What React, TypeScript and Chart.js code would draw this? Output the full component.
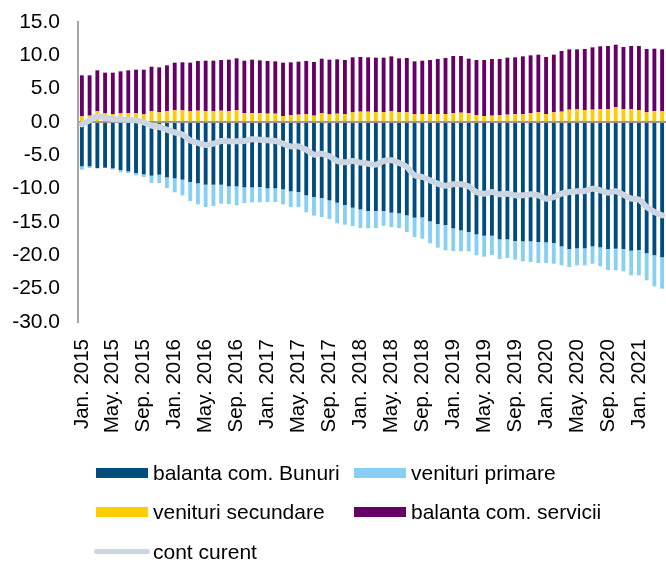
import React, { useEffect, useRef } from "react";
import { Chart, registerables } from "chart.js";

Chart.register(...registerables);

const MONTHS = ["Jan.", "Feb.", "Mar.", "Apr.", "May.", "Jun.", "Jul.", "Aug.", "Sep.", "Oct.", "Nov.", "Dec."];
const YEARS = [2015, 2016, 2017, 2018, 2019, 2020, 2021];
const N_MONTHS = 76; // Jan. 2015 – Apr. 2021

const LABELS: string[] = [];
for (const y of YEARS) for (const m of MONTHS) if (LABELS.length < N_MONTHS) LABELS.push(`${m} ${y}`);

const GOODS = [
  -6.65, -6.65, -6.9, -6.85, -6.95, -7.2, -7.4, -7.65, -7.85, -8.05, -7.9, -8.3, -8.45, -8.65, -9.0, -9.2, -9.4, -9.4, -9.4,
  -9.65, -9.65, -9.8, -9.8, -9.75, -9.95, -9.95, -10.1, -10.4, -10.5, -11.0, -11.25, -11.4, -11.75, -12.1, -12.45, -12.85, -13.1, -13.35,
  -13.35, -13.35, -13.6, -13.7, -14.0, -14.35, -14.3, -14.9, -15.3, -15.45, -15.95, -16.25, -16.5, -16.85, -17.05, -17.05, -17.6, -17.6, -17.85,
  -17.9, -17.9, -18.0, -18.05, -18.15, -18.65, -19.05, -18.95, -18.95, -18.65, -18.8, -19.05, -19.0, -19.05, -19.3, -19.2, -19.7, -20.0, -20.3,
];
const PRIMARY = [
  -0.5, -0.25, -0.1, -0.05, -0.2, -0.35, -0.25, -0.35, -0.4, -1.1, -1.25, -1.6, -2.1, -2.35, -2.85, -3.15, -3.35, -3.2, -2.85,
  -2.65, -2.85, -2.35, -2.25, -2.3, -2.05, -2.05, -2.25, -2.35, -2.25, -2.55, -2.8, -2.85, -2.8, -3.1, -2.95, -2.75, -2.8, -2.6,
  -2.55, -2.2, -2.15, -2.2, -2.5, -2.9, -3.2, -3.3, -3.55, -3.8, -3.4, -3.15, -2.9, -3.15, -3.15, -2.9, -2.95, -2.8, -2.8,
  -3.0, -3.1, -3.15, -3.1, -3.1, -2.85, -2.7, -2.55, -2.55, -2.6, -2.85, -3.15, -3.25, -3.35, -3.7, -3.8, -4.05, -4.65, -4.7,
];
const SECONDARY = [
  0.85, 0.95, 1.65, 1.3, 1.2, 1.3, 1.3, 1.3, 1.15, 1.6, 1.45, 1.65, 1.75, 1.75, 1.6, 1.7, 1.6, 1.6, 1.7,
  1.6, 1.75, 1.3, 1.35, 1.35, 1.25, 1.25, 0.9, 1.0, 1.1, 1.15, 0.95, 1.35, 1.15, 1.25, 1.15, 1.45, 1.55, 1.55,
  1.45, 1.5, 1.6, 1.45, 1.45, 1.15, 1.2, 1.2, 1.2, 1.2, 1.35, 1.4, 1.3, 1.0, 0.9, 0.95, 1.0, 1.1, 1.15,
  1.15, 1.3, 1.45, 1.2, 1.45, 1.55, 1.85, 1.9, 1.8, 1.85, 1.9, 1.9, 2.2, 1.9, 1.9, 1.8, 1.45, 1.65, 1.6,
];
const SERVICES = [
  6.15, 6.05, 6.1, 6.1, 6.2, 6.3, 6.45, 6.55, 6.7, 6.7, 6.75, 6.85, 7.15, 7.2, 7.3, 7.45, 7.6, 7.6, 7.6,
  7.75, 7.8, 7.9, 8.0, 7.9, 7.9, 7.85, 8.0, 7.95, 7.95, 8.0, 8.05, 8.15, 8.2, 8.15, 8.15, 8.25, 8.2, 8.15,
  8.2, 8.15, 8.25, 8.1, 8.15, 7.95, 8.0, 8.1, 8.25, 8.4, 8.55, 8.5, 8.2, 8.3, 8.4, 8.5, 8.45, 8.55, 8.55,
  8.7, 8.7, 8.65, 8.55, 8.65, 9.1, 9.05, 9.0, 9.15, 9.35, 9.45, 9.5, 9.4, 9.35, 9.5, 9.6, 9.5, 9.35, 9.3,
];
const CURRENT = [
  -0.35, 0.25, 0.85, 0.6, 0.45, 0.4, 0.35, 0.25, -0.05, -0.55, -0.75, -1.15, -1.55, -1.9, -2.75, -3.15, -3.45, -3.25, -2.85,
  -2.9, -2.9, -2.85, -2.6, -2.65, -2.75, -2.85, -3.25, -3.65, -3.65, -4.15, -4.9, -4.75, -5.15, -5.85, -6.05, -5.85, -6.1, -6.25,
  -6.4, -5.85, -5.75, -6.15, -6.75, -8.0, -8.25, -8.75, -9.25, -9.55, -9.35, -9.35, -9.65, -10.5, -10.75, -10.5, -10.85, -10.75, -11.0,
  -11.0, -10.85, -11.0, -11.5, -11.25, -10.75, -10.5, -10.4, -10.35, -10.0, -10.25, -10.6, -10.4, -10.9, -11.5, -11.65, -12.75, -13.5, -14.0,
];

const SERIES_NAMES = ["balanta com. Bunuri", "venituri primare", "venituri secundare", "balanta com. servicii", "cont curent"];
const COLORS = ["#004C7E", "#88D0F3", "#FFCC00", "#660066", "#CCD6E2"];

const FONT = "'Liberation Sans', Arial, sans-serif";

export default function App() {
  const ref = useRef<HTMLCanvasElement | null>(null);

  useEffect(() => {
    if (!ref.current) return;
    const bar = (i: number, data: number[]) => ({
      type: "bar" as const,
      label: SERIES_NAMES[i],
      data,
      backgroundColor: COLORS[i],
      borderWidth: 0,
      barPercentage: 0.5,
      categoryPercentage: 1,
      stack: "s",
      order: 1,
    });
    const chart = new Chart(ref.current, {
      type: "bar",
      data: {
        labels: LABELS,
        datasets: [
          bar(0, GOODS),
          bar(1, PRIMARY),
          bar(2, SECONDARY),
          bar(3, SERVICES),
          {
            type: "line" as const,
            label: SERIES_NAMES[4],
            data: CURRENT,
            borderColor: COLORS[4],
            backgroundColor: COLORS[4],
            borderWidth: 6,
            pointRadius: 0,
            tension: 0.35,
            borderCapStyle: "round",
            borderJoinStyle: "round",
            order: 0,
          } as any,
        ],
      },
      options: {
        responsive: false,
        animation: false,
        devicePixelRatio: 1,
        layout: { padding: { top: 22, left: 0, right: 0, bottom: 0 } },
        plugins: { legend: { display: false }, tooltip: { enabled: false } },
        scales: {
          x: {
            stacked: true,
            grid: { display: false, drawTicks: false },
            border: { display: false },
            ticks: {
              autoSkip: false,
              minRotation: 90,
              maxRotation: 90,
              padding: 17,
              color: "#000",
              font: { family: FONT, size: 20.5 },
              callback: (_v: any, i: number) => (i % 4 === 0 ? LABELS[i] : ""),
            },
            afterFit: (s: any) => {
              s.height = 240;
              s.paddingLeft = 0;
              s.paddingRight = 0;
              s.paddingTop = 0;
              s.paddingBottom = 0;
            },
          },
          y: {
            stacked: true,
            min: -30,
            max: 15,
            grid: {
              drawTicks: false,
              lineWidth: 2,
              color: (c: any) => (c.tick && c.tick.value === 0 ? "#999999" : "rgba(0,0,0,0)"),
            },
            border: { display: true, color: "#A6A6A6", width: 2 },
            ticks: {
              stepSize: 5,
              padding: 18,
              color: "#000",
              font: { family: FONT, size: 21 },
              callback: (v: any) => Number(v).toFixed(1),
            },
            afterFit: (s: any) => {
              s.width = 78;
              s.paddingTop = 0;
              s.paddingBottom = 0;
            },
          },
        },
      },
    });
    return () => chart.destroy();
  }, []);

  const txt: React.CSSProperties = {
    position: "absolute",
    fontFamily: FONT,
    fontSize: 21,
    lineHeight: "24px",
    color: "#000",
    whiteSpace: "nowrap",
  };
  const legendItem = (i: number, x: number, cy: number) => (
    <React.Fragment key={i}>
      {i === 4 ? (
        <div
          style={{
            position: "absolute",
            left: x - 2,
            top: cy - 2.5,
            width: 56,
            height: 5,
            borderRadius: 3,
            background: COLORS[i],
          }}
        />
      ) : (
        <div style={{ position: "absolute", left: x, top: cy - 5, width: 52, height: 10, background: COLORS[i] }} />
      )}
      <div style={{ ...txt, left: x + 57, top: cy - 12 }}>{SERIES_NAMES[i]}</div>
    </React.Fragment>
  );

  return (
    <div style={{ position: "fixed", left: 0, top: 0, width: 666, height: 562, overflow: "hidden", background: "#fff" }}>
      <canvas ref={ref} width={666} height={562} style={{ position: "absolute", left: 0, top: 0, width: 666, height: 562 }} />
      {legendItem(0, 96, 473)}
      {legendItem(1, 354, 473)}
      {legendItem(2, 96, 512)}
      {legendItem(3, 354, 512)}
      {legendItem(4, 96, 551.5)}
    </div>
  );
}
